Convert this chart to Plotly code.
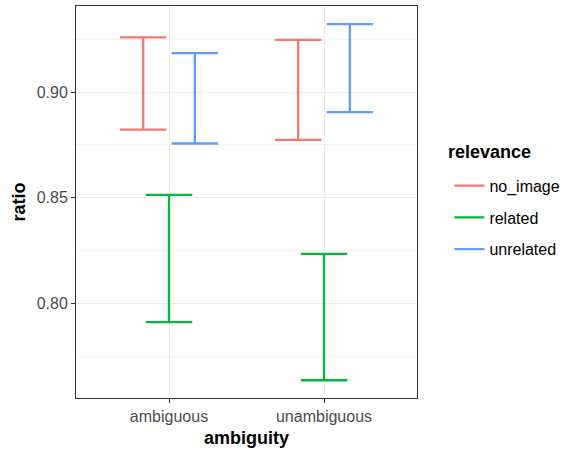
import plotly.graph_objects as go

# Interval bounds of the ratio, per ambiguity condition and relevance group
ambiguity = ["ambiguous", "unambiguous"]
relevance = ["no_image", "related", "unrelated"]
colors = ["#F8766D", "#00BA38", "#619CFF"]

lower = {
    "no_image": [0.8823, 0.8774],
    "related": [0.7911, 0.7636],
    "unrelated": [0.8757, 0.8906],
}
upper = {
    "no_image": [0.9259, 0.9248],
    "related": [0.8514, 0.8234],
    "unrelated": [0.9185, 0.9322],
}

dodge_width = 0.5
cap_width = 0.3
n_groups = len(relevance)

fig = go.Figure()
for g, (rel, col) in enumerate(zip(relevance, colors)):
    offset = (g - (n_groups - 1) / 2) * dodge_width / n_groups
    xs, ys = [], []
    for i, (lo, hi) in enumerate(zip(lower[rel], upper[rel])):
        xc = i + 1 + offset
        xl, xr = xc - cap_width / 2, xc + cap_width / 2
        xs += [xl, xr, None, xc, xc, None, xl, xr, None]
        ys += [hi, hi, None, hi, lo, None, lo, lo, None]
    fig.add_trace(go.Scatter(
        x=xs, y=ys, mode="lines", name=rel, legendgroup=rel,
        line=dict(color=col, width=2.3), hoverinfo="skip",
    ))

family = "Liberation Sans, Arial, sans-serif"
tick_font = dict(family=family, size=16, color="#4D4D4D")
title_font = dict(family=family, size=18, color="#000000")

fig.update_layout(
    width=570, height=450,
    margin=dict(l=76, r=151, t=5, b=51),
    paper_bgcolor="white", plot_bgcolor="white",
    font=dict(family=family),
    showlegend=True,
    legend=dict(
        font=dict(family=family, size=16, color="#000000"),
        x=1.095, xanchor="left", y=0.585, yanchor="top",
        traceorder="grouped", tracegroupgap=8,
        bgcolor="rgba(0,0,0,0)",
    ),
    annotations=[dict(
        text="<b>relevance</b>", font=title_font,
        xref="paper", yref="paper", x=1.0845, y=0.627,
        xanchor="left", yanchor="middle", showarrow=False,
    )],
    xaxis=dict(
        range=[0.4, 2.6],
        tickmode="array", tickvals=[1, 2], ticktext=ambiguity,
        tickfont=tick_font,
        showgrid=True, gridcolor="#EBEBEB", gridwidth=1,
        zeroline=False,
        showline=True, linecolor="#333333", linewidth=1, mirror=True,
        ticks="outside", ticklen=4, tickcolor="#333333",
        title=dict(text="<b>ambiguity</b>", font=title_font, standoff=7),
    ),
    yaxis=dict(
        range=[0.7552, 0.9408],
        tickmode="array", tickvals=[0.80, 0.85, 0.90],
        ticktext=["0.80", "0.85", "0.90"],
        tickfont=tick_font,
        showgrid=True, gridcolor="#EBEBEB", gridwidth=1,
        minor=dict(tickvals=[0.775, 0.825, 0.875, 0.925], showgrid=True,
                   gridcolor="#F2F2F2", gridwidth=1, ticks=""),
        zeroline=False,
        showline=True, linecolor="#333333", linewidth=1, mirror=True,
        ticks="outside", ticklen=4, tickcolor="#333333",
        title=dict(text="<b>ratio</b>", font=title_font, standoff=6),
    ),
)

fig.write_html("out.html")
